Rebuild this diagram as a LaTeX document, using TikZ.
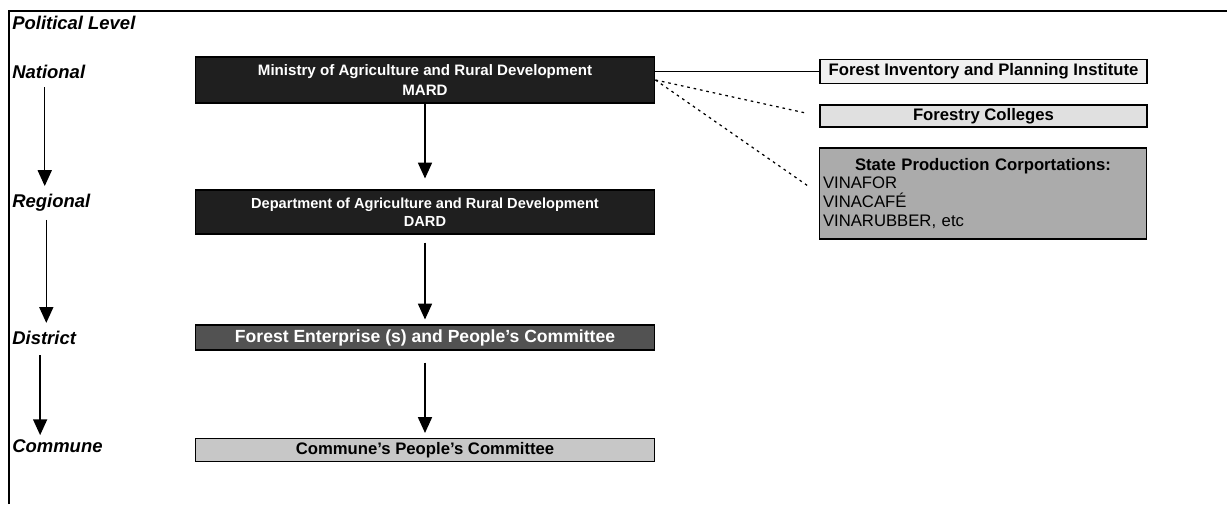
\documentclass[tikz,border=0pt]{standalone}
\usepackage{fontspec}
\setmainfont{Liberation Sans}
\usetikzlibrary{arrows.meta}

\begin{document}
\begin{tikzpicture}[x=0.02cm, y=-0.02cm,
  level/.style={anchor=west, inner sep=0pt, font=\fontsize{10.5}{12}\selectfont\bfseries\itshape},
  unit/.style={draw=black, line width=0.6pt, minimum width=9.2cm, inner sep=1pt, align=center, font=\fontsize{9.5}{11}\selectfont\bfseries},
  side/.style={draw=black, line width=0.8pt, minimum width=6.54cm, inner sep=1pt, align=center, font=\fontsize{9.5}{11}\selectfont\bfseries},
  down/.style={-{Triangle[width=8pt,length=9pt]}, line width=0.8pt},
  link/.style={line width=0.7pt, dash pattern=on 1.5pt off 2.2pt}]

	\useasboundingbox (0,0) rectangle (1227,504);
	\draw[line width=0.9pt] (9,504) -- (9,11) -- (1227,11);

	\node[level] (political) at (12,23) {Political Level};
	\node[level] (national) at (12,72) {National};
	\node[level] (regional) at (12,203) {Regional};
	\node[level] (district) at (12,338) {District};
	\node[level] (commune) at (12,446) {Commune};

	\node[unit, fill=black!88, text=white, minimum height=0.92cm, font=\fontsize{8.6}{11}\selectfont\bfseries] (MARD) at (425,80) {Ministry of Agriculture and Rural Development\\MARD};
	\node[unit, fill=black!88, text=white, minimum height=0.88cm, font=\fontsize{8.3}{10.5}\selectfont\bfseries] (DARD) at (425,212) {Department of Agriculture and Rural Development\\DARD};
	\node[unit, fill=black!68, text=white, minimum height=0.5cm, font=\fontsize{10}{12}\selectfont\bfseries] (FE) at (425,337.5) {Forest Enterprise (s) and People's Committee};
	\node[unit, fill=black!22, minimum height=0.46cm] (CPC) at (425,450) {Commune's People's Committee};

	\node[side, fill=black!6, minimum height=0.48cm] (FIPI) at (983.5,71.5) {Forest Inventory and Planning Institute};
	\node[side, fill=black!12, minimum height=0.44cm] (colleges) at (983.5,116) {Forestry Colleges};
	\node[side, fill=black!33, minimum height=1.82cm, text width=6.4cm, align=left, inner xsep=1.5pt, font=\fontsize{9.5}{10.8}\selectfont] (SPC) at (983,193.5) {\makebox[6.4cm]{\bfseries State Production Corportations:}\\VINAFOR\\VINACAFÉ\\VINARUBBER, etc};

	\draw[down, shorten >=0.22cm] (MARD) -- (DARD);
	\draw[down, shorten <=0.16cm, shorten >=0.1cm] (DARD) -- (FE);
	\draw[down, shorten <=0.24cm, shorten >=0.1cm] (FE) -- (CPC);

	\draw[down, shorten <=0.16cm, shorten >=0.16cm] ([xshift=-0.08cm]national.south) -- ([xshift=-0.08cm]national.south |- regional.north);
	\draw[down, shorten <=0.16cm, shorten >=0.16cm] ([xshift=-0.1cm]regional.south) -- ([xshift=-0.1cm]regional.south |- district.north);
	\draw[down, shorten <=0.2cm, shorten >=0.08cm] ([xshift=-0.08cm]district.south) -- ([xshift=-0.08cm]district.south |- commune.north);

	\draw[line width=0.7pt] (FIPI.west) -- (FIPI.west -| MARD.east);
	\draw[link, shorten >=0.24cm] (MARD.east) -- (colleges.west);
	\draw[link, shorten >=0.26cm] (MARD.east) -- (SPC.west);
\end{tikzpicture}
\end{document}
